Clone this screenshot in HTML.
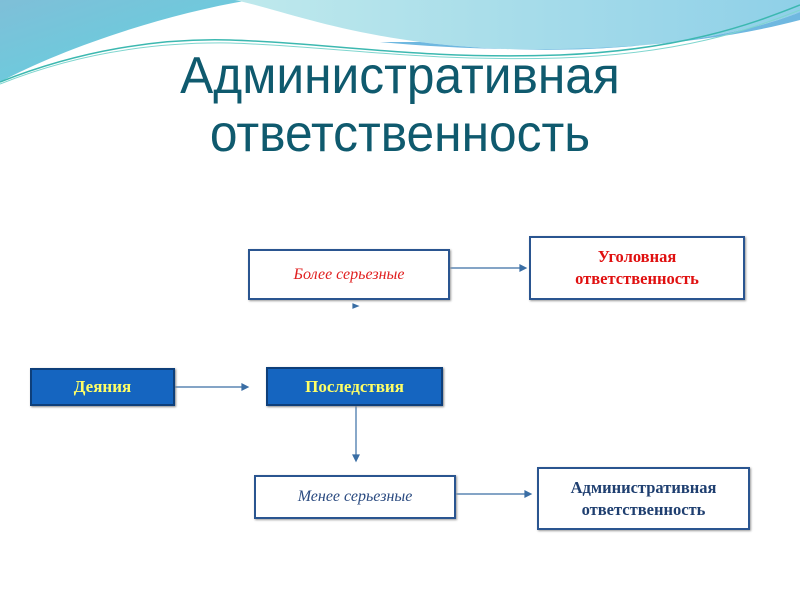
<!DOCTYPE html>
<html><head><meta charset="utf-8"><style>
body{margin:0;width:800px;height:600px;background:#fff;position:relative;overflow:hidden;font-family:"Liberation Sans",sans-serif}
.b{position:absolute;box-sizing:border-box;display:flex;align-items:center;justify-content:center;text-align:center}
.w{border:2px solid #2a5590;background:#fff;box-shadow:1px 1px 2px #999}
.bl{background:#1565c0;border:2px solid #0e3f7a;color:#ffff66;font-family:"Liberation Serif",serif;font-weight:bold;font-size:17px;box-shadow:1px 1px 2px #888}
.it{font-family:"Liberation Serif",serif;font-style:italic;font-size:16px}
.bd{font-family:"Liberation Serif",serif;font-weight:bold;font-size:16.5px;line-height:22px}
.t{position:absolute;left:0;width:800px;text-align:center;color:#0f5a6e;font-size:52px;line-height:60px;transform:scaleX(0.955)}
</style></head><body>
<svg width="800" height="600" style="position:absolute;left:0;top:0">
<defs>
<linearGradient id="g1" x1="0" y1="0" x2="1" y2="1"><stop offset="0" stop-color="#7fbfd8"/><stop offset="1" stop-color="#5fd3e0"/></linearGradient>
<linearGradient id="g2" x1="0" y1="0" x2="1" y2="0"><stop offset="0" stop-color="#bfe9ec"/><stop offset="1" stop-color="#8fd0e8"/></linearGradient>
</defs>
<path d="M0,0 L250,0 C160,15 60,50 0,82Z" fill="url(#g1)"/>
<path d="M235,0 L800,0 L800,12 C720,45 560,60 420,42 C330,30 280,10 235,0Z" fill="url(#g2)"/>
<path d="M380,42 C520,55 680,52 800,20 L800,12 C720,45 560,60 420,42Z" fill="#6fb8e0"/>
<path d="M0,82 C80,50 160,38 230,40 C330,43 420,60 560,55 C680,50 750,25 800,5" stroke="#3cb8b0" stroke-width="1.5" fill="none"/>
<path d="M0,84 C80,52 160,42 230,43 C330,46 420,62 560,58 C680,54 750,30 800,10" stroke="#7fd6cf" stroke-width="1" fill="none"/>
<g stroke="#3a6ea5" stroke-width="1.2" fill="#3a6ea5">
<line x1="450" y1="268" x2="522" y2="268"/><polygon points="526,268 520,265 520,271"/>
<line x1="175" y1="387" x2="244" y2="387"/><polygon points="248,387 242,384 242,390"/>
<line x1="356" y1="406" x2="356" y2="456"/><polygon points="356,461 353,455 359,455"/>
<line x1="456" y1="494" x2="527" y2="494"/><polygon points="531,494 525,491 525,497"/>
<polygon points="358,306 353,304 353,308"/>
</g>
</svg>
<div class="t" style="top:46px">Административная</div>
<div class="t" style="top:104px">ответственность</div>
<div class="b w it" style="left:248px;top:249px;width:202px;height:51px;color:#e02020">Более серьезные</div>
<div class="b w bd" style="left:529px;top:236px;width:216px;height:64px;color:#e01010">Уголовная<br>ответственность</div>
<div class="b bl" style="left:30px;top:368px;width:145px;height:38px">Деяния</div>
<div class="b bl" style="left:266px;top:367px;width:177px;height:39px">Последствия</div>
<div class="b w it" style="left:254px;top:475px;width:202px;height:44px;color:#2a4a80">Менее серьезные</div>
<div class="b w bd" style="left:537px;top:467px;width:213px;height:63px;color:#1f3f70">Административная<br>ответственность</div>
</body></html>
